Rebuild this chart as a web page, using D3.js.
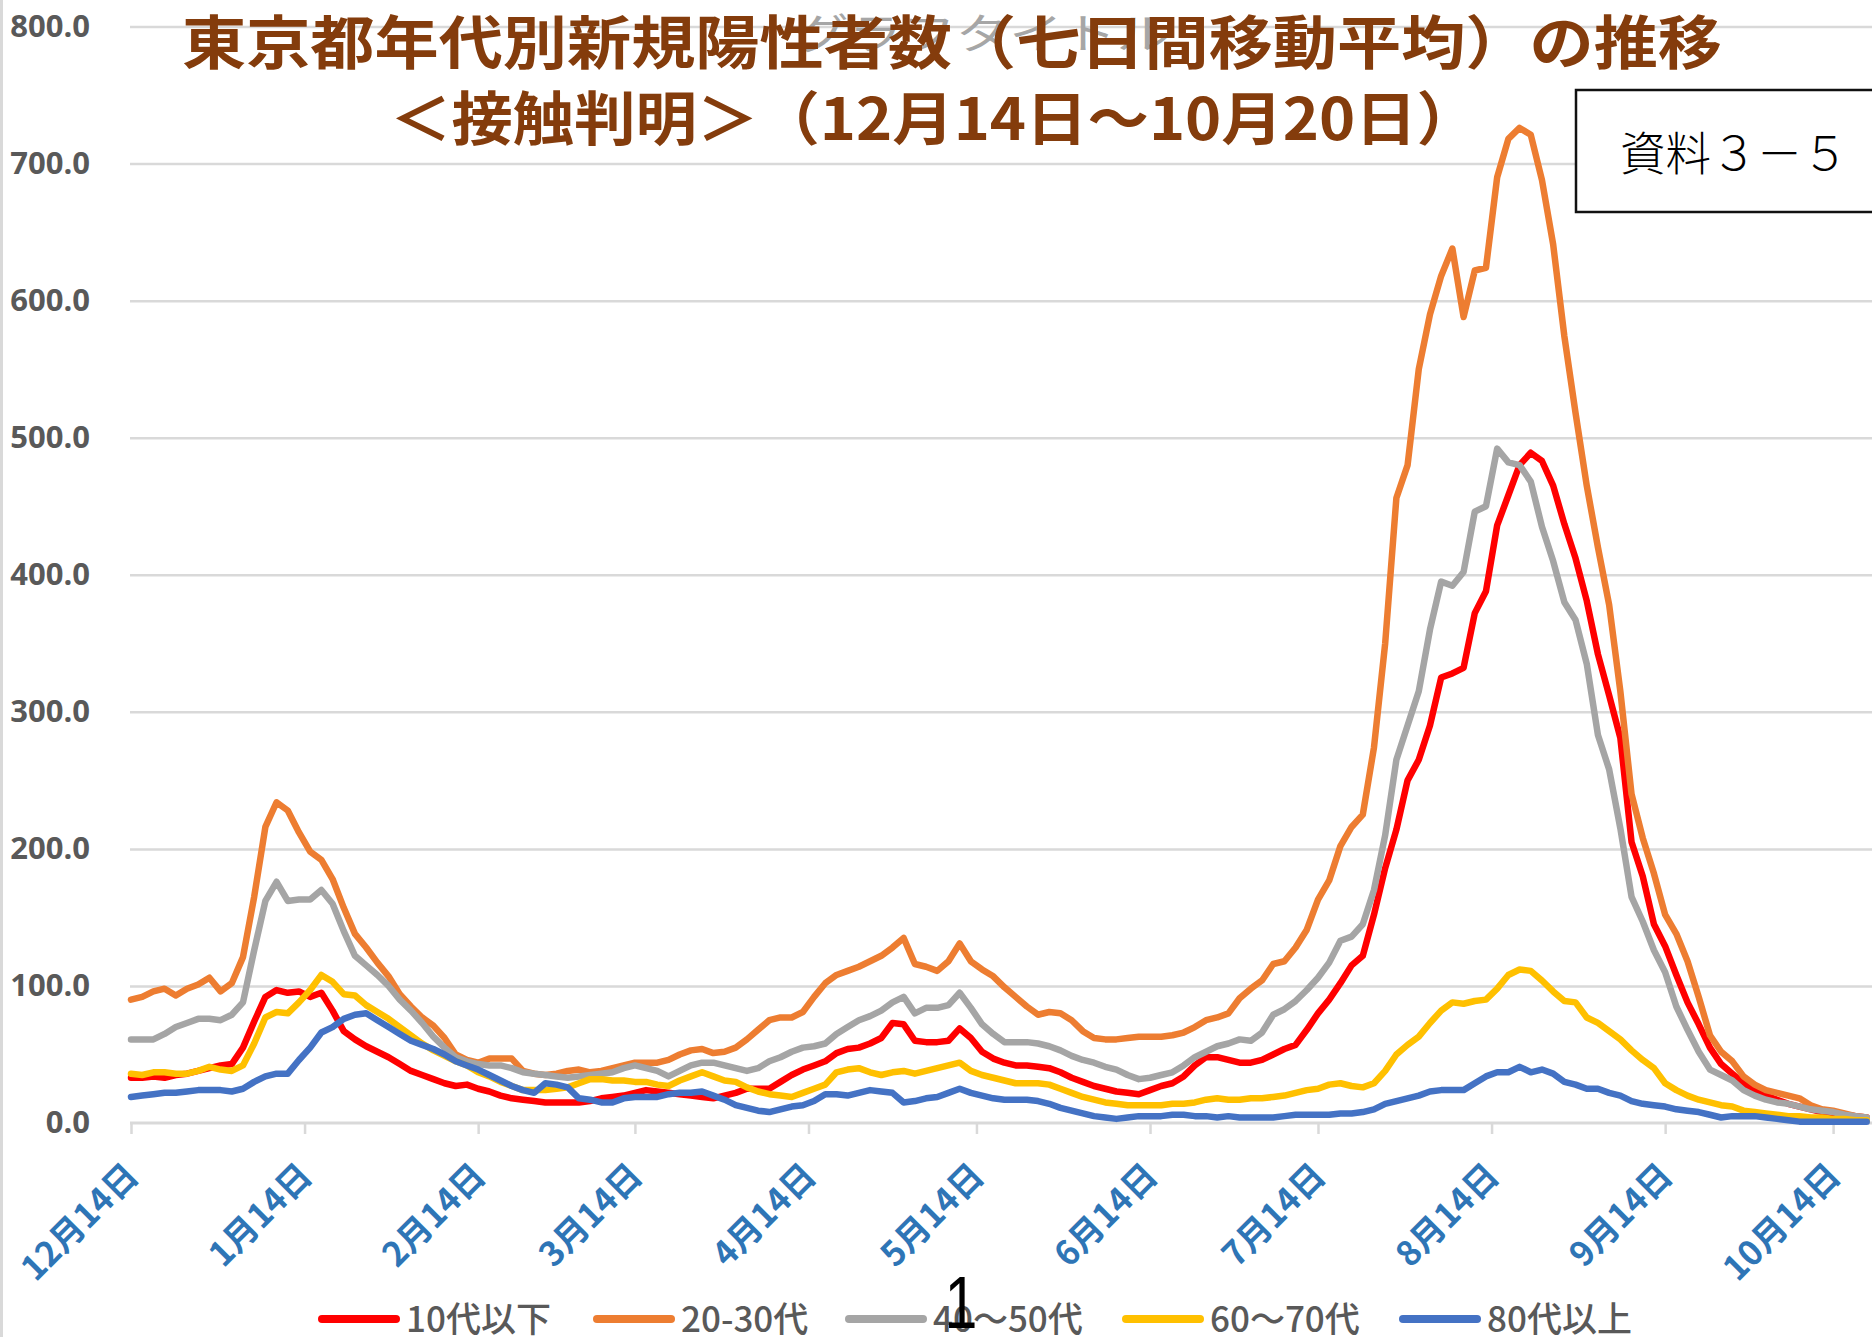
<!DOCTYPE html>
<html><head><meta charset="utf-8">
<script src="https://cdn.jsdelivr.net/npm/d3@7"></script>
<style>
html,body{margin:0;padding:0;background:#fff;}
svg{display:block;}
</style></head>
<body><svg id="chart" width="1872" height="1337"></svg>
<script>
// ---------- data ----------
const startDate = "2020-12-14";
const endDate = "2021-10-20";
const stepDays = 2; // one value every 2 days, Dec 14 .. Oct 20

const seriesNames = ["10代以下", "20-30代", "40～50代", "60～70代", "80代以上"];

const under10s = [
  33, 33, 34, 33, 35, 36, 38, 40, 42, 43,
  55, 74, 92, 97, 95, 96, 92, 95, 82, 67,
  61, 56, 52, 48, 43, 38, 35, 32, 29, 27,
  28, 25, 23, 20, 18, 17, 16, 15, 15, 15,
  15, 16, 18, 19, 20, 22, 24, 23, 22, 21,
  20, 19, 18, 20, 22, 25, 25, 25, 30, 35,
  39, 42, 45, 51, 54, 55, 58, 62, 73, 72,
  60, 59, 59, 60, 69, 62, 52, 47, 44, 42,
  42, 41, 40, 37, 33, 30, 27, 25, 23, 22,
  21, 24, 27, 29, 34, 42, 48, 48, 46, 44,
  44, 46, 50, 54, 57, 68, 80, 90, 102, 115,
  122, 152, 186, 214, 250, 265, 290, 325, 328, 332,
  372, 388, 436, 458, 480, 489, 483, 465, 437, 412,
  381, 342, 312, 281, 205, 180, 145, 129, 108, 88,
  72, 55, 43, 36, 29, 24, 20, 17, 14, 12,
  10, 8, 7, 6, 5, 4
];
const age20s30s = [
  90, 92, 96, 98, 93, 98, 101, 106, 96, 102,
  121, 165, 216, 234, 228, 212, 198, 192, 178, 157,
  138, 128, 117, 107, 94, 85, 77, 71, 62, 50,
  46, 44, 47, 47, 47, 38, 36, 35, 36, 38,
  39, 37, 38, 40, 42, 44, 44, 44, 46, 50,
  53, 54, 51, 52, 55, 61, 68, 75, 77, 77,
  81, 92, 102, 108, 111, 114, 118, 122, 128, 135,
  116, 114, 111, 118, 131, 118, 112, 107, 99, 92,
  85, 79, 81, 80, 75, 67, 62, 61, 61, 62,
  63, 63, 63, 64, 66, 70, 75, 77, 80, 91,
  98, 104, 116, 118, 128, 141, 163, 177, 202, 216,
  225, 274, 350, 456, 480, 550, 590, 618, 638, 588,
  622, 624, 690, 718, 726, 721, 688, 641, 574, 518,
  465, 420, 378, 315, 240, 208, 182, 152, 138, 118,
  92, 64, 52, 45, 34, 28, 24, 22, 20, 18,
  13, 10, 9, 7, 5, 4
];
const age40s50s = [
  61, 61, 61, 65, 70, 73, 76, 76, 75, 79,
  88, 126, 162, 176, 162, 163, 163, 170, 160, 140,
  122, 115, 108, 100, 90, 82, 73, 63, 55, 48,
  45, 43, 42, 42, 40, 37, 36, 35, 34, 33,
  34, 35, 36, 37, 40, 42, 40, 38, 34, 38,
  42, 44, 44, 42, 40, 38, 40, 45, 48, 52,
  55, 56, 58, 65, 70, 75, 78, 82, 88, 92,
  80, 84, 84, 86, 95, 84, 72, 65, 59, 59,
  59, 58, 56, 53, 49, 46, 44, 41, 39, 35,
  32, 33, 35, 37, 42, 48, 52, 56, 58, 61,
  60, 66, 79, 83, 89, 97, 106, 117, 133, 136,
  145, 170, 210, 265, 290, 315, 360, 395, 392, 402,
  446, 450, 492, 482, 480, 468, 435, 410, 380, 367,
  335, 283, 258, 215, 165, 147, 126, 110, 85, 68,
  52, 39, 35, 31, 24, 20, 17, 15, 14, 12,
  10, 9, 8, 6, 5, 4
];
const age60s70s = [
  36, 35, 37, 37, 36, 36, 38, 41, 39, 38,
  42, 58, 77, 81, 80, 88, 97, 108, 103, 94,
  93, 86, 81, 76, 70, 64, 58, 53, 49, 45,
  42, 37, 34, 30, 27, 24, 24, 24, 25, 26,
  29, 32, 32, 31, 31, 30, 30, 28, 27, 31,
  34, 37, 34, 31, 30, 26, 23, 21, 20, 19,
  22, 25, 28, 37, 39, 40, 37, 35, 37, 38,
  36, 38, 40, 42, 44, 38, 35, 33, 31, 29,
  29, 29, 28, 25, 22, 19, 17, 15, 14, 13,
  13, 13, 13, 14, 14, 15, 17, 18, 17, 17,
  18, 18, 19, 20, 22, 24, 25, 28, 29, 27,
  26, 29, 38, 50, 57, 63, 73, 82, 88, 87,
  89, 90, 98, 108, 112, 111, 104, 96, 89, 88,
  77, 73, 67, 61, 53, 46, 40, 29, 24, 20,
  17, 15, 13, 12, 9, 8, 7, 6, 5, 5,
  4, 4, 3, 3, 2, 2
];
const age80plus = [
  19, 20, 21, 22, 22, 23, 24, 24, 24, 23,
  25, 30, 34, 36, 36, 46, 55, 66, 70, 76,
  79, 80, 75, 70, 65, 60, 57, 54, 50, 45,
  42, 39, 35, 31, 27, 24, 22, 29, 28, 26,
  18, 17, 15, 15, 18, 19, 19, 19, 21, 22,
  22, 23, 20, 17, 13, 11, 9, 8, 10, 12,
  13, 16, 21, 21, 20, 22, 24, 23, 22, 15,
  16, 18, 19, 22, 25, 22, 20, 18, 17, 17,
  17, 16, 14, 11, 9, 7, 5, 4, 3, 4,
  5, 5, 5, 6, 6, 5, 5, 4, 5, 4,
  4, 4, 4, 5, 6, 6, 6, 6, 7, 7,
  8, 10, 14, 16, 18, 20, 23, 24, 24, 24,
  29, 34, 37, 37, 41, 37, 39, 36, 30, 28,
  25, 25, 22, 20, 16, 14, 13, 12, 10, 9,
  8, 6, 4, 5, 5, 5, 4, 3, 2, 1,
  1, 1, 1, 1, 1, 1
];

const tickDates = ["2020-12-14","2021-01-14","2021-02-14","2021-03-14","2021-04-14",
  "2021-05-14","2021-06-14","2021-07-14","2021-08-14","2021-09-14","2021-10-14"];
const tickLabels = ["12月14日","1月14日","2月14日","3月14日","4月14日",
  "5月14日","6月14日","7月14日","8月14日","9月14日","10月14日"];
const yTicks = [0, 100, 200, 300, 400, 500, 600, 700, 800];

const titleLine1 = "東京都年代別新規陽性者数（七日間移動平均）の推移";
const titleLine2 = "＜接触判明＞（12月14日～10月20日）";
const placeholderTitle = "グラフタイトル";
const docLabel = "資料３－５";
const pageNumber = "1";

// ---------- drawing ----------
const W = 1872, H = 1337;
const colors = ["#FF0000", "#ED7D31", "#A5A5A5", "#FFC000", "#4472C4"];
const seriesValues = [under10s, age20s30s, age40s50s, age60s70s, age80plus];

const parse = d3.timeParse("%Y-%m-%d");
const t0 = parse(startDate);
const x = d3.scaleTime().domain([t0, parse(endDate)]).range([131, 1866.7]);
const y = d3.scaleLinear().domain([0, 800]).range([1123, 26.5]);

const svg = d3.select("#chart");
svg.append("rect").attr("width", W).attr("height", H).attr("fill", "#fff");
svg.append("rect").attr("x", 0).attr("y", 0).attr("width", 3).attr("height", H).attr("fill", "#d9d9d9");

// gridlines
const grid = svg.append("g").attr("transform", "translate(130,0)")
  .call(d3.axisLeft(y).tickValues(yTicks.slice(1)).tickSize(-(W - 130)).tickFormat(""));
grid.select(".domain").remove();
grid.selectAll(".tick line").attr("stroke", "#d9d9d9").attr("stroke-width", 2.5);

// y labels
const yAxis = svg.append("g").attr("transform", "translate(90,0)")
  .call(d3.axisLeft(y).tickValues(yTicks).tickSize(0).tickPadding(0).tickFormat(d3.format(".1f")));
yAxis.select(".domain").remove();
yAxis.selectAll(".tick text")
  .attr("font-family", "'Open Sans', 'Noto Sans', sans-serif")
  .attr("font-size", 31).attr("font-weight", 700).attr("fill", "#595959");

// placeholder chart title (mostly hidden)
svg.append("text").attr("x", 795).attr("y", 30)
  .attr("dominant-baseline", "central")
  .attr("textLength", 375).attr("lengthAdjust", "spacingAndGlyphs")
  .attr("font-family", "'Noto Sans CJK JP', sans-serif").attr("font-size", 42)
  .attr("fill", "#a6a6a6").text(placeholderTitle);

// x axis
const xAxis = svg.append("g").attr("transform", "translate(0,1123)")
  .call(d3.axisBottom(x).tickValues(tickDates.map(parse)).tickSize(11)
    .tickFormat((d, i) => tickLabels[i]));
xAxis.select(".domain").attr("d", `M130,0H${W}`).attr("stroke", "#d9d9d9").attr("stroke-width", 3);
xAxis.selectAll(".tick line").attr("stroke", "#d9d9d9").attr("stroke-width", 2.5);
xAxis.selectAll(".tick text")
  .attr("x", 0).attr("y", 0).attr("dy", 0)
  .attr("transform", "translate(9,55) rotate(-45)")
  .attr("text-anchor", "end")
  .attr("font-family", "'Noto Sans CJK JP', sans-serif")
  .attr("font-size", 34).attr("font-weight", 700).attr("fill", "#2E75B6");

// series lines
const line = d3.line()
  .x((d, i) => x(d3.timeDay.offset(t0, i * stepDays)))
  .y(d => y(d));
svg.append("g").selectAll("path").data(seriesValues).join("path")
  .attr("d", d => line(d))
  .attr("fill", "none")
  .attr("stroke", (d, i) => colors[i])
  .attr("stroke-width", 6.5)
  .attr("stroke-linejoin", "round")
  .attr("stroke-linecap", "round");

// title
const titleG = svg.append("g")
  .attr("font-family", "'Noto Sans CJK JP', sans-serif")
  .attr("font-weight", 700).attr("fill", "#843C0C");
titleG.append("text").attr("x", 182).attr("y", 39)
  .attr("dominant-baseline", "central").attr("font-size", 58)
  .attr("textLength", 1540).attr("lengthAdjust", "spacingAndGlyphs")
  .text(titleLine1);
titleG.append("text").attr("x", 390).attr("y", 115)
  .attr("dominant-baseline", "central").attr("font-size", 58)
  .attr("textLength", 1088).attr("lengthAdjust", "spacingAndGlyphs")
  .text(titleLine2);

// document label box
svg.append("rect").attr("x", 1576).attr("y", 90).attr("width", 320).attr("height", 122)
  .attr("fill", "#fff").attr("stroke", "#111").attr("stroke-width", 2.5);
svg.append("text").attr("x", 1620).attr("y", 150)
  .attr("dominant-baseline", "central")
  .attr("textLength", 228).attr("lengthAdjust", "spacingAndGlyphs")
  .attr("font-family", "'Noto Sans CJK JP', sans-serif").attr("font-size", 46)
  .attr("font-weight", 300).attr("fill", "#000").text(docLabel);

// legend
const legendX = [318, 593, 845, 1122, 1399];
const legend = svg.append("g").selectAll("g").data(seriesNames).join("g")
  .attr("transform", (d, i) => `translate(${legendX[i]},1319)`);
legend.append("line").attr("x1", 4).attr("x2", 78).attr("y1", 0).attr("y2", 0)
  .attr("stroke", (d, i) => colors[i]).attr("stroke-width", 8).attr("stroke-linecap", "round");
legend.append("text").attr("x", 88).attr("y", 13)
  .attr("font-family", "'Noto Sans CJK JP', sans-serif").attr("font-size", 35)
  .attr("font-weight", 500).attr("fill", "#595959").text(d => d);

// page number
svg.append("text").attr("transform", "translate(961,1328) scale(0.8,1)")
  .attr("text-anchor", "middle")
  .attr("font-family", "'Liberation Sans', Arial, sans-serif").attr("font-size", 74)
  .attr("fill", "#000").text(pageNumber);
</script>
</body></html>
